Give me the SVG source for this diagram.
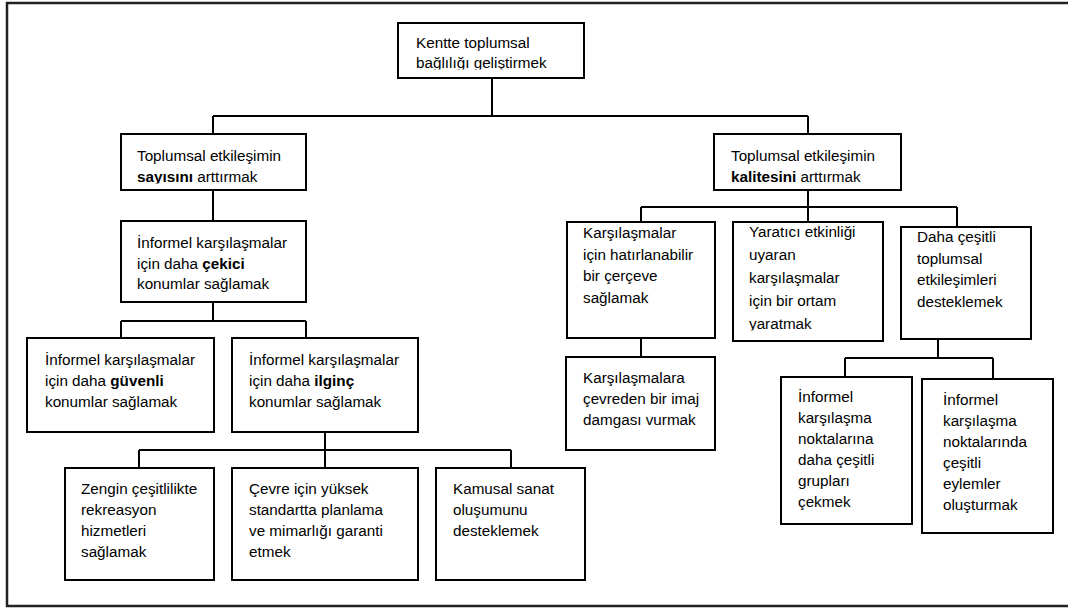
<svg xmlns="http://www.w3.org/2000/svg" width="1068" height="610" viewBox="0 0 1068 610">
<style>
.box{fill:#fff;stroke:#000;stroke-width:2}
.t{font-family:"Liberation Sans",Arial,sans-serif;font-size:15.25px;fill:#000}
.b{font-weight:bold}
.c{fill:none;stroke:#000;stroke-width:2}
.frame{fill:none;stroke:#222;stroke-width:2.5}
</style>
<defs>
<clipPath id="clipRoot" clipPathUnits="userSpaceOnUse"><rect x="398" y="23" width="186" height="46.5"/></clipPath>
<clipPath id="clipSay" clipPathUnits="userSpaceOnUse"><rect x="121" y="134" width="185" height="49.5"/></clipPath>
<clipPath id="clipYar" clipPathUnits="userSpaceOnUse"><rect x="733" y="222" width="150" height="108.5"/></clipPath>
</defs>
<rect class="frame" x="7" y="3" width="1075" height="603"/>
<g id="connectors">
<path class="c" d="M492,78 V116 M213,116 H808 M213,116 V134 M808,116 V134"/>
<path class="c" d="M213,190 V221"/>
<path class="c" d="M213,302 V321 M121,321 H306 M121,321 V338 M306,321 V338"/>
<path class="c" d="M325,432 V468 M139,450 H511 M139,450 V468 M511,450 V468"/>
<path class="c" d="M808,190 V222 M641,207 H957 M641,207 V222 M957,207 V227"/>
<path class="c" d="M641,338 V357"/>
<path class="c" d="M938,339 V358 M845,358 H993 M845,358 V377 M993,358 V379"/>
</g>
<g id="root">
<rect class="box" x="398" y="23" width="186" height="55"/>
<text class="t" clip-path="url(#clipRoot)"><tspan x="416" y="48.3">Kentte toplumsal</tspan><tspan x="416" y="67.7">bağlılığı geliştirmek</tspan></text>
</g>
<g id="sayisini">
<rect class="box" x="121" y="134" width="185" height="56"/>
<text class="t" clip-path="url(#clipSay)"><tspan x="137" y="161">Toplumsal etkileşimin</tspan><tspan x="137" y="182"><tspan class="b">sayısını</tspan> arttırmak</tspan></text>
</g>
<g id="cekici">
<rect class="box" x="121" y="221" width="185" height="81"/>
<text class="t"><tspan x="137" y="248">İnformel karşılaşmalar</tspan><tspan x="137" y="269">için daha <tspan class="b">çekici</tspan></tspan><tspan x="137" y="289">konumlar sağlamak</tspan></text>
</g>
<g id="guvenli">
<rect class="box" x="27" y="338" width="187" height="94"/>
<text class="t"><tspan x="45" y="365">İnformel karşılaşmalar</tspan><tspan x="45" y="386">için daha <tspan class="b">güvenli</tspan></tspan><tspan x="45" y="407">konumlar sağlamak</tspan></text>
</g>
<g id="ilginc">
<rect class="box" x="232" y="338" width="186" height="94"/>
<text class="t"><tspan x="249" y="365">İnformel karşılaşmalar</tspan><tspan x="249" y="386">için daha <tspan class="b">ilginç</tspan></tspan><tspan x="249" y="407">konumlar sağlamak</tspan></text>
</g>
<g id="zengin">
<rect class="box" x="65" y="468" width="149" height="112"/>
<text class="t"><tspan x="81" y="494">Zengin çeşitlilikte</tspan><tspan x="81" y="515">rekreasyon</tspan><tspan x="81" y="536">hizmetleri</tspan><tspan x="81" y="557">sağlamak</tspan></text>
</g>
<g id="cevre">
<rect class="box" x="232" y="468" width="186" height="112"/>
<text class="t"><tspan x="249" y="494">Çevre için yüksek</tspan><tspan x="249" y="515">standartta planlama</tspan><tspan x="249" y="536">ve mimarlığı garanti</tspan><tspan x="249" y="557">etmek</tspan></text>
</g>
<g id="kamusal">
<rect class="box" x="436" y="468" width="149" height="112"/>
<text class="t"><tspan x="453" y="494">Kamusal sanat</tspan><tspan x="453" y="515">oluşumunu</tspan><tspan x="453" y="536">desteklemek</tspan></text>
</g>
<g id="kalitesini">
<rect class="box" x="714" y="134" width="187" height="56"/>
<text class="t"><tspan x="731" y="161">Toplumsal etkileşimin</tspan><tspan x="731" y="182"><tspan class="b">kalitesini</tspan> arttırmak</tspan></text>
</g>
<g id="hatirlanabilir">
<rect class="box" x="567" y="222" width="148" height="116"/>
<text class="t"><tspan x="583" y="238">Karşılaşmalar</tspan><tspan x="583" y="259.5">için hatırlanabilir</tspan><tspan x="583" y="281">bir çerçeve</tspan><tspan x="583" y="302.5">sağlamak</tspan></text>
</g>
<g id="yaratici">
<rect class="box" x="733" y="222" width="150" height="119"/>
<text class="t" clip-path="url(#clipYar)"><tspan x="749" y="237">Yaratıcı etkinliği</tspan><tspan x="749" y="260">uyaran</tspan><tspan x="749" y="283">karşılaşmalar</tspan><tspan x="749" y="306">için bir ortam</tspan><tspan x="749" y="329">yaratmak</tspan></text>
</g>
<g id="daha">
<rect class="box" x="901" y="227" width="130" height="112"/>
<text class="t"><tspan x="917" y="242">Daha çeşitli</tspan><tspan x="917" y="263.5">toplumsal</tspan><tspan x="917" y="285">etkileşimleri</tspan><tspan x="917" y="306.5">desteklemek</tspan></text>
</g>
<g id="imaj">
<rect class="box" x="566" y="357" width="149" height="93"/>
<text class="t"><tspan x="583" y="382.7">Karşılaşmalara</tspan><tspan x="583" y="404">çevreden bir imaj</tspan><tspan x="583" y="425">damgası vurmak</tspan></text>
</g>
<g id="noktalarina">
<rect class="box" x="781" y="377" width="131" height="147"/>
<text class="t"><tspan x="798" y="401.7">İnformel</tspan><tspan x="798" y="422.7">karşılaşma</tspan><tspan x="798" y="443.7">noktalarına</tspan><tspan x="798" y="464.7">daha çeşitli</tspan><tspan x="798" y="485.7">grupları</tspan><tspan x="798" y="506.7">çekmek</tspan></text>
</g>
<g id="noktalarinda">
<rect class="box" x="922" y="379" width="131" height="154"/>
<text class="t"><tspan x="943" y="405">İnformel</tspan><tspan x="943" y="426">karşılaşma</tspan><tspan x="943" y="447">noktalarında</tspan><tspan x="943" y="468">çeşitli</tspan><tspan x="943" y="489">eylemler</tspan><tspan x="943" y="510">oluşturmak</tspan></text>
</g>
</svg>
